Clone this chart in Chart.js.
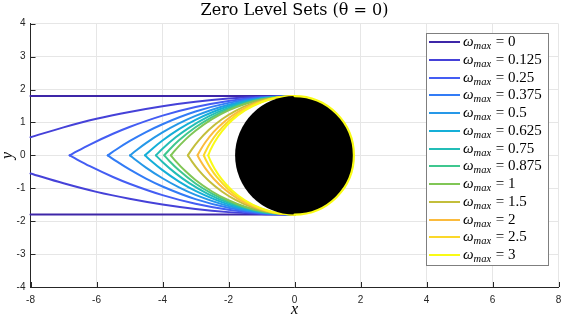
<!DOCTYPE html>
<html>
<head>
<meta charset="utf-8">
<script src="https://cdn.jsdelivr.net/npm/chart.js@4.4.1/dist/chart.umd.min.js"></script>
<style>
html,body{margin:0;padding:0;background:#fff;}
#wrap{position:relative;width:562px;height:320px;overflow:hidden;}
canvas{display:block;}
#legend{position:absolute;left:426px;top:33px;width:123px;height:233px;border:1px solid #7f7f7f;background:#fff;box-sizing:border-box;font-family:'Liberation Serif',serif;font-size:15px;color:#000;}
.row{position:absolute;left:2px;height:18px;display:flex;align-items:center;white-space:nowrap;}
.sw{display:inline-block;width:31px;height:2px;margin-right:3px;}
.tx{line-height:18px;}
.sub{font-size:10.5px;font-style:italic;position:relative;top:3px;margin-right:1px;}
</style>
</head>
<body>
<div id="wrap">
<canvas id="c" width="562" height="320"></canvas>
<div id="legend"></div>
</div>
<script>
// ---- data ----
const omegaLabels = ['0','0.125','0.25','0.375','0.5','0.625','0.75','0.875','1','1.5','2','2.5','3'];
const lineColors = ['#3e26a8','#4541d8','#445df3','#327cf6','#2698e8','#15afd8','#23bdb7','#3fc78f','#80c656','#c3be3b','#fbbb3d','#fbd82a','#f9fb15'];
const xTicks = [-8,-6,-4,-2,0,2,4,6,8];
const yTicks = [-4,-3,-2,-1,0,1,2,3,4];
// upper halves of each zero level set (lower half is the mirror image, theta = 0)
const w_0     = [[-8,1.8],[0,1.8]];
const w_0125  = [[-8,0.55],[-7,0.85],[-6,1.11],[-5,1.32],[-4,1.495],[-3,1.63],[-2,1.725],[-1,1.782],[0,1.8]];
const w_025   = [[-6.815,0],[-6.6,0.119],[-6.2,0.329],[-5.5,0.657],[-5,0.862],[-4,1.208],[-3,1.47],[-2,1.654],[-1,1.764],[0,1.8]];
const w_0375  = [[-5.66,0],[-5.4,0.178],[-5,0.429],[-4.5,0.706],[-4,0.946],[-3,1.33],[-2,1.594],[-1,1.749],[0,1.8]];
const w_05    = [[-4.984,0],[-4.8,0.148],[-4.5,0.371],[-4,0.696],[-3.5,0.971],[-3,1.2],[-2,1.539],[-1,1.736],[0,1.8]];
const w_0625  = [[-4.53,0],[-4.35,0.164],[-4,0.45],[-3.5,0.796],[-3,1.079],[-2,1.49],[-1,1.724],[0,1.8]];
const w_075   = [[-4.2,0],[-4,0.2],[-3.6,0.548],[-3.2,0.837],[-2.6,1.185],[-2,1.444],[-1,1.713],[0,1.8]];
const w_0875  = [[-3.947,0],[-3.8,0.163],[-3.5,0.456],[-3,0.854],[-2.5,1.164],[-2,1.402],[-1,1.704],[0,1.8]];
const w_1     = [[-3.747,0],[-3.6,0.175],[-3.3,0.486],[-3,0.747],[-2.5,1.098],[-2,1.364],[-1.5,1.56],[-1,1.695],[0,1.8]];
const w_15    = [[-3.231,0],[-3.1,0.198],[-2.9,0.456],[-2.6,0.771],[-2.2,1.098],[-1.8,1.347],[-1.3,1.571],[-0.7,1.735],[0,1.8]];
const w_2     = [[-2.939,0],[-2.85,0.164],[-2.7,0.397],[-2.45,0.711],[-2.1,1.046],[-1.7,1.328],[-1.2,1.574],[-0.6,1.745],[0,1.8]];
const w_25    = [[-2.75,0],[-2.68,0.148],[-2.55,0.38],[-2.35,0.665],[-2,1.036],[-1.6,1.338],[-1.1,1.591],[-0.55,1.749],[0,1.8]];
const w_3     = [[-2.615,0],[-2.55,0.157],[-2.42,0.408],[-2.2,0.732],[-1.9,1.057],[-1.5,1.364],[-1,1.615],[-0.5,1.755],[0,1.8]];
const upperHalves = [w_0,w_0125,w_025,w_0375,w_05,w_0625,w_075,w_0875,w_1,w_15,w_2,w_25,w_3];
const obstacleCenter = [0,0];
const obstacleRadius = 1.8;
const titleText = 'Zero Level Sets (\u03b8 = 0)';

// ---- datasets ----
const N = upperHalves.length;
const datasets = [];
upperHalves.forEach((pts,i)=>{
  const common = {showLine:true,borderColor:lineColors[i],backgroundColor:lineColors[i],borderWidth:2,pointRadius:0,pointHoverRadius:0,
    cubicInterpolationMode:'monotone',borderCapStyle:'round',borderJoinStyle:'round',order:N-1-i,clip:false};
  datasets.push(Object.assign({label:'w='+omegaLabels[i]+' upper',data:pts.map(p=>({x:p[0],y:p[1]}))},common));
  datasets.push(Object.assign({label:'w='+omegaLabels[i]+' lower',data:pts.map(p=>({x:p[0],y:-p[1]}))},common));
});

const obstaclePlugin = {
  id:'obstacle',
  afterDatasetsDraw(chart){
    const {ctx,scales:{x,y}} = chart;
    const cx = x.getPixelForValue(obstacleCenter[0]), cy = y.getPixelForValue(obstacleCenter[1]);
    const rx = x.getPixelForValue(obstacleCenter[0]+obstacleRadius)-cx;
    const ry = cy - y.getPixelForValue(obstacleCenter[1]+obstacleRadius);
    ctx.save();
    ctx.beginPath(); ctx.ellipse(cx,cy,rx,ry,0,0,Math.PI*2); ctx.fillStyle='#000'; ctx.fill();
    ctx.beginPath(); ctx.ellipse(cx,cy,rx,ry,0,-Math.PI/2,Math.PI/2);
    ctx.strokeStyle=lineColors[N-1]; ctx.lineWidth=2.2; ctx.lineCap='round'; ctx.stroke();
    ctx.restore();
  }
};
const tickPlugin = {
  id:'innerTicks',
  afterDraw(chart){
    const {ctx,chartArea:a,scales:{x,y}} = chart;
    ctx.save(); ctx.strokeStyle='#262626'; ctx.lineWidth=1; ctx.beginPath();
    x.ticks.forEach(t=>{const p=Math.round(x.getPixelForValue(t.value))+0.5; ctx.moveTo(p,a.bottom); ctx.lineTo(p,a.bottom-5);});
    y.ticks.forEach(t=>{const p=Math.round(y.getPixelForValue(t.value))+0.5; ctx.moveTo(a.left,p); ctx.lineTo(a.left+5,p);});
    ctx.stroke(); ctx.restore();
  }
};

new Chart(document.getElementById('c'),{
  type:'scatter',
  data:{datasets},
  options:{
    responsive:false,animation:false,devicePixelRatio:1,
    layout:{padding:{left:0,right:3.5,top:0,bottom:0}},
    plugins:{
      legend:{display:false},tooltip:{enabled:false},
      title:{display:true,text:titleText,fullSize:false,color:'#000',
        font:{family:'DejaVu Serif',size:16,weight:'normal',lineHeight:1.2},padding:{top:1.5,bottom:3}}
    },
    scales:{
      x:{type:'linear',position:'bottom',min:-8,max:8,
        afterBuildTicks:s=>{s.ticks=xTicks.map(v=>({value:v}));},
        afterFit:s=>{s.height=33;s.paddingLeft=0;s.paddingRight=0;},
        grid:{color:'#e6e6e6',drawTicks:false,lineWidth:1},
        border:{color:'#262626',width:1},
        ticks:{color:'#262626',font:{family:'Liberation Sans',size:10},padding:7,maxRotation:0,autoSkip:false},
        title:{display:true,text:'x',color:'#000',font:{family:'Liberation Serif',size:16,style:'italic',lineHeight:1},padding:{top:0,bottom:2.5}}
      },
      y:{type:'linear',position:'left',min:-4,max:4,
        afterBuildTicks:s=>{s.ticks=yTicks.map(v=>({value:v}));},
        afterFit:s=>{s.width=30.5;s.paddingTop=0;s.paddingBottom=0;},
        grid:{color:'#e6e6e6',drawTicks:false,lineWidth:1},
        border:{color:'#262626',width:1},
        ticks:{color:'#262626',font:{family:'Liberation Sans',size:10},padding:5,autoSkip:false},
        title:{display:true,text:'y',color:'#000',font:{family:'Liberation Serif',size:16,style:'italic',lineHeight:1},padding:{top:0,bottom:0}}
      }
    }
  },
  plugins:[obstaclePlugin,tickPlugin]
});

// ---- legend (HTML, with subscripts) ----
const leg = document.getElementById('legend');
omegaLabels.forEach((lab,i)=>{
  const row = document.createElement('div');
  row.className='row';
  row.style.top = (9.3 + 17.72*i - 9 - 1) + 'px';
  row.innerHTML = '<span class="sw" style="background:'+lineColors[i]+'"></span>'+
    '<span class="tx"><i>\u03c9</i><span class="sub">max</span> = '+lab+'</span>';
  leg.appendChild(row);
});
</script>
</body>
</html>
